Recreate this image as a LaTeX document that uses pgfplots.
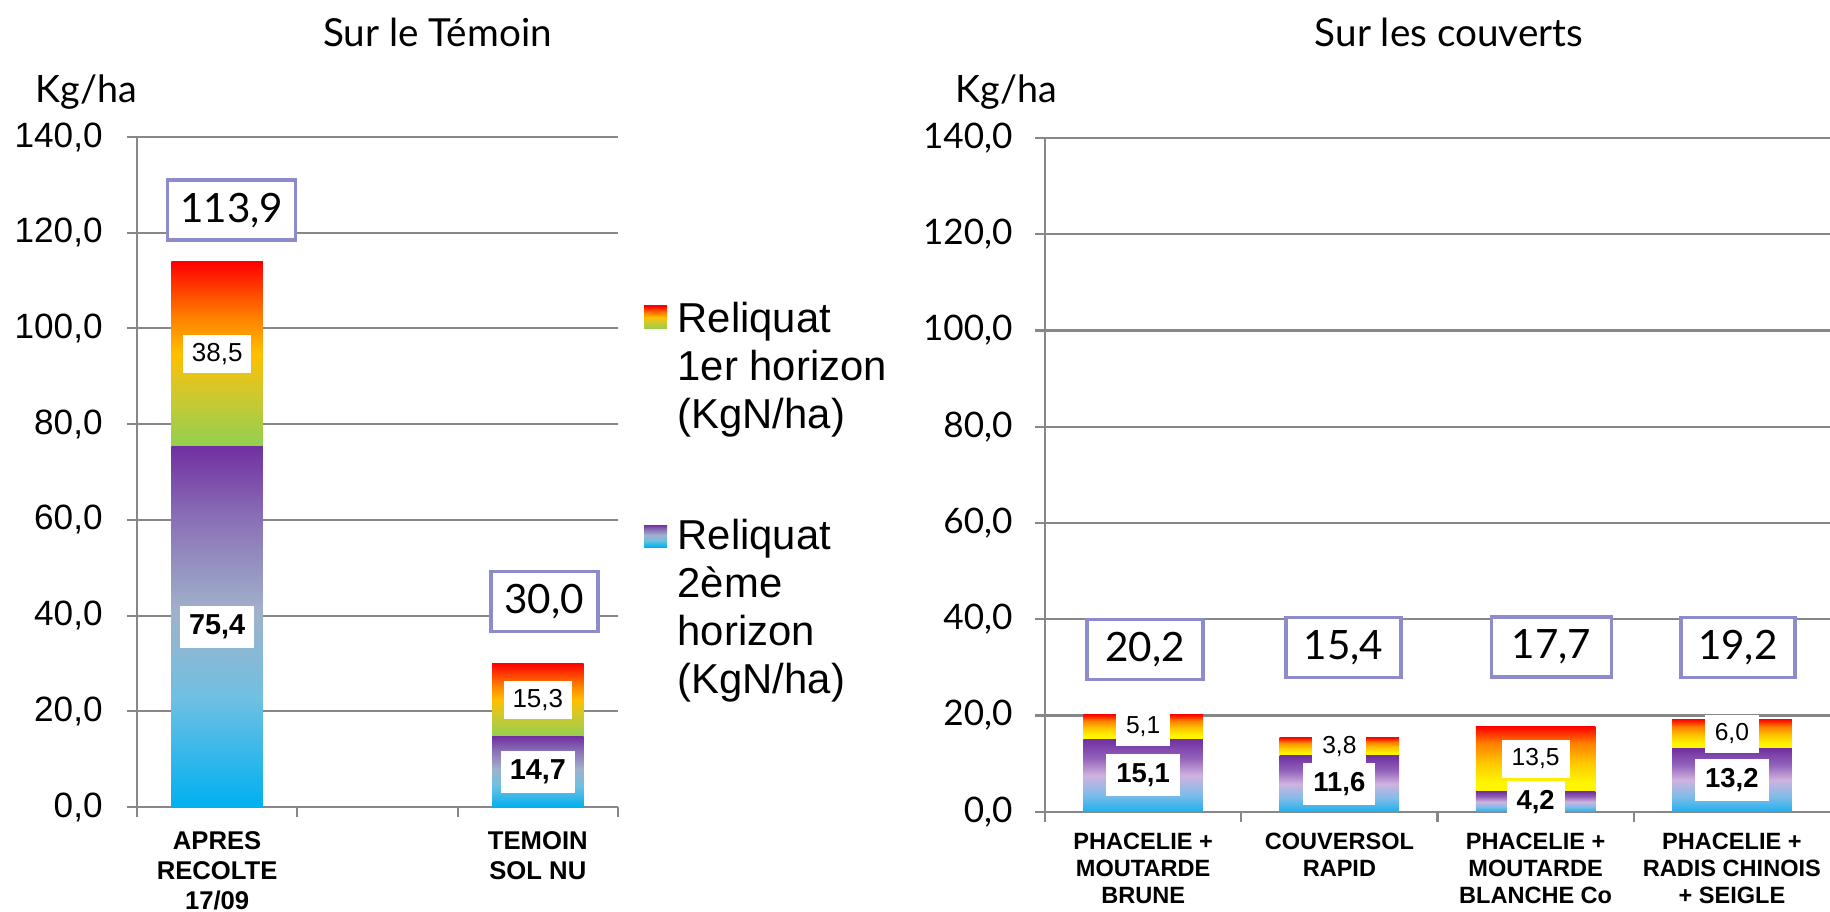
\documentclass[border=0pt]{standalone}
\usepackage{pgfplots}
\pgfplotsset{compat=1.18}
\usepackage{fontspec}
\setmainfont{Liberation Sans}
\newfontfamily\lato{Lato}

\definecolor{gridc}{HTML}{878787}
\definecolor{boxc}{HTML}{8C8CCC}
\definecolor{wLa}{HTML}{92D050}
\definecolor{wLb}{HTML}{D2C82C}
\definecolor{wLc}{HTML}{FFC000}
\definecolor{wLd}{HTML}{FF8000}
\definecolor{wLe}{HTML}{FF0000}
\definecolor{cLa}{HTML}{00B0F0}
\definecolor{cLb}{HTML}{6EC0E2}
\definecolor{cLc}{HTML}{A0B2CA}
\definecolor{cLd}{HTML}{8A70B6}
\definecolor{cLe}{HTML}{7030A0}
\definecolor{wRa}{HTML}{FFF500}
\definecolor{wRb}{HTML}{FFC800}
\definecolor{wRc}{HTML}{FF8000}
\definecolor{wRd}{HTML}{FF0000}
\definecolor{cRa}{HTML}{1EB0EE}
\definecolor{cRb}{HTML}{80BCE8}
\definecolor{cRc}{HTML}{D0B2DE}
\definecolor{cRd}{HTML}{9262BA}
\definecolor{cRe}{HTML}{7030A0}

\pgfdeclareverticalshading{warmL}{100bp}{color(0bp)=(wLa); color(25bp)=(wLa); color(40bp)=(wLb); color(50bp)=(wLc); color(60bp)=(wLd); color(75bp)=(wLe); color(100bp)=(wLe)}
\pgfdeclareverticalshading{coolL}{100bp}{color(0bp)=(cLa); color(25bp)=(cLa); color(40bp)=(cLb); color(52bp)=(cLc); color(65bp)=(cLd); color(75bp)=(cLe); color(100bp)=(cLe)}
\pgfdeclareverticalshading{warmR}{100bp}{color(0bp)=(wRa); color(25bp)=(wRa); color(32bp)=(wRa); color(47bp)=(wRb); color(62bp)=(wRc); color(75bp)=(wRd); color(100bp)=(wRd)}
\pgfdeclareverticalshading{coolR}{100bp}{color(0bp)=(cRa); color(25bp)=(cRa); color(37bp)=(cRb); color(50bp)=(cRc); color(62bp)=(cRd); color(75bp)=(cRe); color(100bp)=(cRe)}

\pgfplotsset{
  panelL/.style={scale only axis, anchor=south west, ybar stacked, clip=false,
    at={(13.7mm,10.4mm)}, width=48.1mm, height=67mm,
    bar width=0.57, xmin=-0.5, xmax=2.5, ymin=0, ymax=140},
  panelR/.style={scale only axis, anchor=south west, ybar stacked, clip=false,
    at={(104.5mm,9.93mm)}, width=78.5mm, height=67.37mm,
    bar width=0.61, xmin=-0.5, xmax=3.5, ymin=0, ymax=140},
  common/.style={
    ytick={0,20,...,140},
    axis x line*=bottom, axis y line*=left,
    axis line style={gridc, line width=0.6pt},
    ymajorgrids, grid style={gridc, line width=0.6pt},
    tick align=outside, major tick length=1mm,
    tick style={gridc, line width=0.6pt},
    xticklabels={},
    extra x tick style={major tick length=0pt, grid=none},
  },
  lowL/.style={draw=none, shade, shading=coolL},
  highL/.style={draw=none, shade, shading=warmL},
  lowR/.style={draw=none, shade, shading=coolR},
  highR/.style={draw=none, shade, shading=warmR},
}
\tikzset{
  tot/.style={draw=boxc, line width=0.35mm, fill=white, font=\lato\fontsize{11.5}{13}\selectfont, minimum height=6mm, inner sep=0pt},
  lblLr/.style={fill=white, font=\fontsize{7.4}{8}\selectfont, inner xsep=0.9mm, inner ysep=0.8mm, text height=1.86mm, text depth=0.4mm},
  lblLb/.style={fill=white, font=\fontsize{8.2}{9}\selectfont\bfseries, inner xsep=0.9mm, inner ysep=0.85mm, text height=2.05mm, text depth=0.45mm},
  lblRr/.style={fill=white, font=\fontsize{7}{8}\selectfont, inner xsep=1mm, inner ysep=0.85mm, text height=1.75mm, text depth=0.4mm},
  lblRb/.style={fill=white, font=\fontsize{7.8}{9}\selectfont\bfseries, inner xsep=1mm, inner ysep=0.9mm, text height=1.95mm, text depth=0.45mm},
}

\begin{document}
\begin{tikzpicture}
\useasboundingbox (0,0) rectangle (183mm,91.1mm);

% ---------------- left panel ----------------
\begin{axis}[panelL, common,
  xtick={-0.5,0.5,1.5,2.5},
  extra x ticks={0,1,2},
  extra x tick labels={{APRES\\RECOLTE\\17/09},{},{TEMOIN\\SOL NU}},
  xticklabel style={font=\fontsize{7.3}{8.5}\selectfont\bfseries, align=center, yshift=-1.2mm},
  yticklabel style={/pgf/number format/fixed, /pgf/number format/fixed zerofill,
    /pgf/number format/precision=1, /pgf/number format/use comma,
    /pgf/number format/assume math mode=true,
    font=\fontsize{10}{12}\selectfont, xshift=-1.2mm},
]
\addplot[lowL] coordinates {(0,75.4)};
\addplot[highL] coordinates {(0,38.5)};
\end{axis}
\begin{axis}[panelL, hide axis]
\addplot[lowL] coordinates {(2,14.7)};
\addplot[highL] coordinates {(2,15.3)};
\end{axis}
\begin{axis}[panelL, hide axis]
\node[lblLb] at (axis cs:0,37.7) {75,4};
\node[lblLr] at (axis cs:0,94.65) {38,5};
\node[lblLb] at (axis cs:2,7.35) {14,7};
\node[lblLr] at (axis cs:2,22.35) {15,3};
\node[tot, minimum width=12.8mm] at (axis cs:0.09,124.7) {113,9};
\node[tot, minimum width=10.7mm] at (axis cs:2.04,42.9) {30,0};
\end{axis}

% ---------------- right panel ----------------
\begin{axis}[panelR, common,
  xtick={-0.5,0.5,1.5,2.5},
  extra x ticks={0,1,2,3},
  extra x tick labels={{PHACELIE +\\MOUTARDE\\BRUNE},{COUVERSOL\\RAPID},{PHACELIE +\\MOUTARDE\\BLANCHE Co},{PHACELIE +\\RADIS CHINOIS\\+ SEIGLE}},
  xticklabel style={font=\fontsize{6.7}{7.8}\selectfont\bfseries, align=center, yshift=-0.85mm},
  yticklabel style={/pgf/number format/fixed, /pgf/number format/fixed zerofill,
    /pgf/number format/precision=1, /pgf/number format/use comma,
    /pgf/number format/assume math mode=true,
    font=\lato\fontsize{10}{12}\selectfont, xshift=-1mm},
]
\addplot[lowR] coordinates {(0,15.1)};
\addplot[highR] coordinates {(0,5.1)};
\end{axis}
\begin{axis}[panelR, hide axis]
\addplot[lowR] coordinates {(1,11.6)};
\addplot[highR] coordinates {(1,3.8)};
\end{axis}
\begin{axis}[panelR, hide axis]
\addplot[lowR] coordinates {(2,4.2)};
\addplot[highR] coordinates {(2,13.5)};
\end{axis}
\begin{axis}[panelR, hide axis]
\addplot[lowR] coordinates {(3,13.2)};
\addplot[highR] coordinates {(3,6.0)};
\end{axis}
\begin{axis}[panelR, hide axis]
\node[lblRr] at (axis cs:0,17.65) {5,1};
\node[lblRb] at (axis cs:0,7.55) {15,1};
\node[lblRr] at (axis cs:1,13.5) {3,8};
\node[lblRb] at (axis cs:1,5.8) {11,6};
\node[lblRr] at (axis cs:2,10.95) {13,5};
\node[lblRb] at (axis cs:2,2.1) {4,2};
\node[lblRr] at (axis cs:3,16.2) {6,0};
\node[lblRb] at (axis cs:3,6.6) {13,2};
\node[tot, minimum width=11.6mm] at (axis cs:0.01,33.7) {20,2};
\node[tot, minimum width=11.5mm] at (axis cs:1.02,34.1) {15,4};
\node[tot, minimum width=12.0mm] at (axis cs:2.08,34.2) {17,7};
\node[tot, minimum width=11.4mm] at (axis cs:3.03,34.1) {19,2};
\end{axis}

\begin{scope}[x=0.1mm,y=0.1mm]
% titles and unit labels
\node[anchor=base, font=\lato\fontsize{11}{13}\selectfont] at (437.5,864.3) {Sur le Témoin};
\node[anchor=base, font=\lato\fontsize{11}{13}\selectfont] at (1449,864.3) {Sur les couverts};
\node[anchor=base west, inner sep=0pt, font=\lato\fontsize{10.7}{12}\selectfont] at (35,808) {Kg/ha};
\node[anchor=base west, inner sep=0pt, font=\lato\fontsize{10.7}{12}\selectfont] at (955,808) {Kg/ha};

% legend
\shade[shading=warmL] (644,582) rectangle (667,605);
\shade[shading=coolL] (644,364) rectangle (667,386);
\node[anchor=north west, inner sep=0pt, align=left, font=\fontsize{11.9}{13.75}\selectfont] at (677,610) {Reliquat\\1er horizon\\(KgN/ha)};
\node[anchor=north west, inner sep=0pt, align=left, font=\fontsize{11.9}{13.75}\selectfont] at (677,393) {Reliquat\\2ème\\horizon\\(KgN/ha)};
\end{scope}
\end{tikzpicture}
\end{document}
